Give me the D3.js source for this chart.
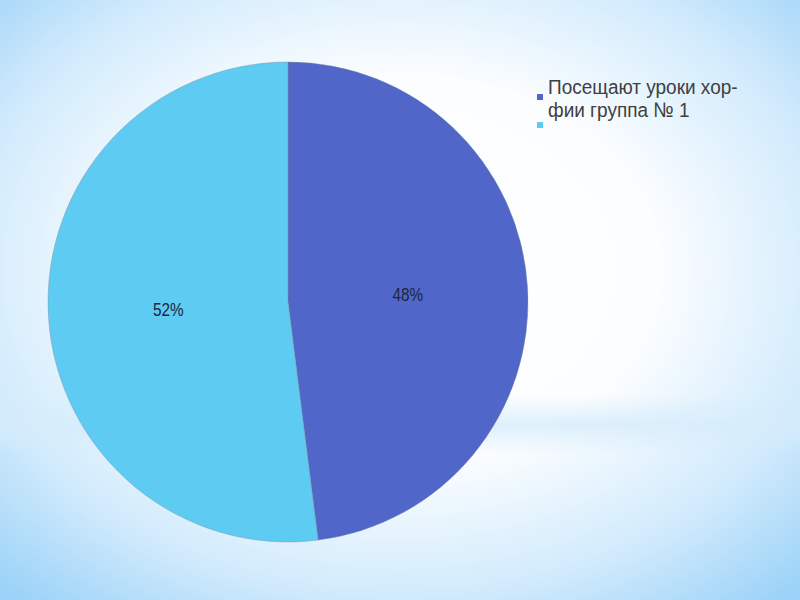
<!DOCTYPE html>
<html lang="ru">
<head>
<meta charset="utf-8">
<script src="https://d3js.org/d3.v7.min.js"></script>
<style>
  body { margin: 0; }
  #chart { width: 800px; height: 600px; }
</style>
</head>
<body>
<div id="chart"></div>
<script>
  // chart data
  var categories = ["Посещают уроки хор-фии группа № 1", ""];
  var values = [48, 52];
  var valueLabels = ["48%", "52%"];
  var legendLines = ["Посещают уроки хор-", "фии группа № 1"];
  var colors = ["#5066c8", "#5ecbf2"];

  var width = 800, height = 600;
  var cx = 288, cy = 302, radius = 240;

  var svg = d3.select("#chart")
    .append("svg")
      .attr("width", width)
      .attr("height", height);

  // background: white glow in the middle, light blue at the edges
  var defs = svg.append("defs");
  var grad = defs.append("radialGradient")
    .attr("id", "bg")
    .attr("cx", "50%").attr("cy", "45%")
    .attr("r", "72%");
  grad.append("stop").attr("offset", "0%").attr("stop-color", "#ffffff");
  grad.append("stop").attr("offset", "45%").attr("stop-color", "#fbfdff");
  grad.append("stop").attr("offset", "75%").attr("stop-color", "#d2ebfc");
  grad.append("stop").attr("offset", "100%").attr("stop-color", "#9dd3f8");

  var band = defs.append("linearGradient")
    .attr("id", "band")
    .attr("x1", 0).attr("y1", 0).attr("x2", 0).attr("y2", 1);
  band.append("stop").attr("offset", "0%").attr("stop-color", "#d6ecfb").attr("stop-opacity", 0);
  band.append("stop").attr("offset", "50%").attr("stop-color", "#d6ecfb").attr("stop-opacity", 0.8);
  band.append("stop").attr("offset", "100%").attr("stop-color", "#d6ecfb").attr("stop-opacity", 0);

  svg.append("rect")
    .attr("width", width).attr("height", height)
    .attr("fill", "url(#bg)");
  svg.append("rect")
    .attr("x", 0).attr("y", 395)
    .attr("width", width).attr("height", 60)
    .attr("fill", "url(#band)");

  var pie = d3.pie().sort(null).value(function(d) { return d; });
  var arc = d3.arc().innerRadius(0).outerRadius(radius);

  var g = svg.append("g")
    .attr("transform", "translate(" + cx + "," + cy + ")");

  var arcs = pie(values);

  g.selectAll("path")
    .data(arcs)
    .enter()
    .append("path")
      .attr("d", arc)
      .attr("fill", function(d, i) { return colors[i]; })
      .attr("stroke", "#7a8aa0")
      .attr("stroke-opacity", 0.5)
      .attr("stroke-width", 0.8);

  g.selectAll("text.lbl")
    .data(arcs)
    .enter()
    .append("text")
      .attr("class", "lbl")
      .attr("transform", function(d) {
        var c = arc.centroid(d);
        return "translate(" + c[0] + "," + c[1] + ") scale(0.85,1)";
      })
      .attr("dy", "0.35em")
      .attr("text-anchor", "middle")
      .attr("font-family", "'Liberation Sans', Arial, sans-serif")
      .attr("font-size", 18)
      .attr("fill", "#1c2640")
      .text(function(d, i) { return valueLabels[i]; });

  // legend
  var legend = svg.append("g")
    .attr("transform", "translate(537,0)");

  legend.selectAll("rect")
    .data(categories)
    .enter()
    .append("rect")
      .attr("x", 0)
      .attr("y", function(d, i) { return 94 + i * 28; })
      .attr("width", 6)
      .attr("height", 6)
      .attr("fill", function(d, i) { return colors[i]; });

  legend.selectAll("text")
    .data(legendLines)
    .enter()
    .append("text")
      .attr("transform", function(d, i) {
        return "translate(11," + (94 + i * 23) + ") scale(0.95,1.05)";
      })
      .attr("font-family", "'Liberation Sans', Arial, sans-serif")
      .attr("font-size", 20)
      .attr("fill", "#404040")
      .text(function(d) { return d; });
</script>
</body>
</html>
